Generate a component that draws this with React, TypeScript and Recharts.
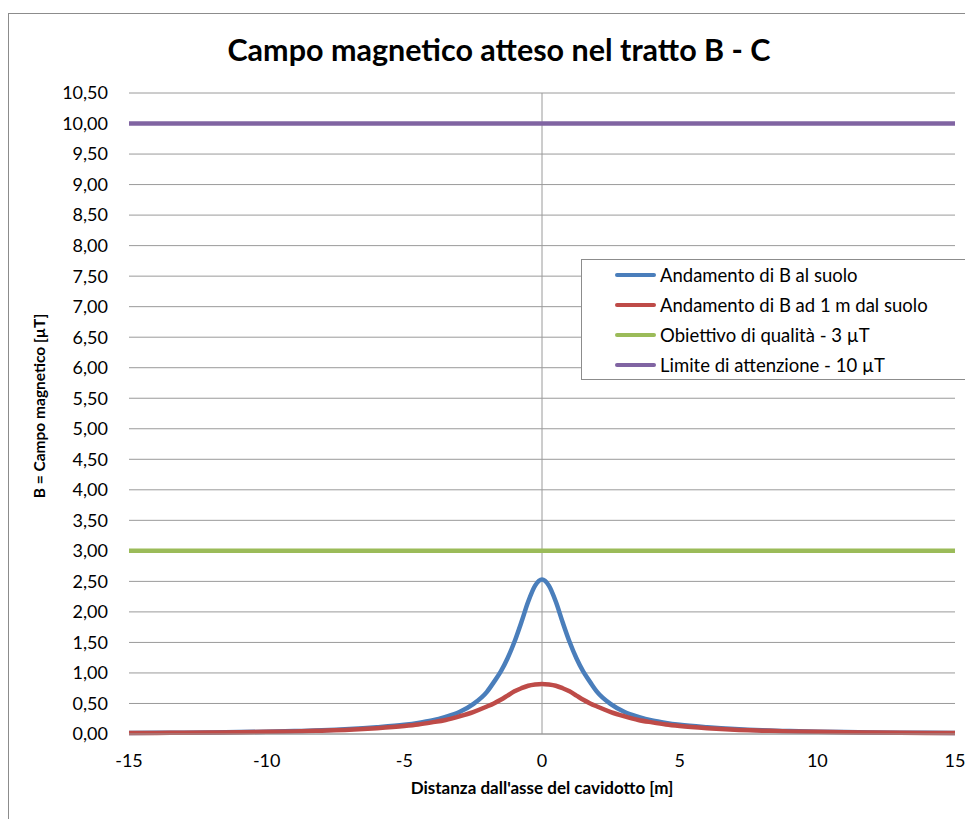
import React from "react";
import { CartesianGrid, Legend, Line, LineChart, ReferenceLine, XAxis, YAxis } from "recharts";

// distanza dall'asse [m]
const distances = [
  -15, -14, -13, -12, -11, -10, -9, -8, -7, -6, -5, -4.5, -4, -3.5, -3, -2.5, -2, -1.75, -1.5, -1.25, -1, -0.75,
  -0.5, -0.25, 0, 0.25, 0.5, 0.75, 1, 1.25, 1.5, 1.75, 2, 2.5, 3, 3.5, 4, 4.5, 5, 6, 7, 8, 9, 10, 11, 12, 13, 14, 15,
];

// B al suolo [µT]
const groundField = [
  0.016, 0.019, 0.022, 0.026, 0.031, 0.038, 0.048, 0.06, 0.08, 0.11, 0.15, 0.18, 0.22, 0.28, 0.36, 0.49, 0.69, 0.85,
  1.02, 1.24, 1.51, 1.83, 2.17, 2.43, 2.53, 2.43, 2.17, 1.83, 1.51, 1.24, 1.02, 0.85, 0.69, 0.49, 0.36, 0.28, 0.22,
  0.18, 0.15, 0.11, 0.08, 0.06, 0.048, 0.038, 0.031, 0.026, 0.022, 0.019, 0.016,
];

// B ad 1 m dal suolo [µT]
const oneMeterField = [
  0.015, 0.018, 0.021, 0.024, 0.029, 0.035, 0.043, 0.055, 0.07, 0.095, 0.13, 0.155, 0.19, 0.23, 0.29, 0.36, 0.45,
  0.5, 0.56, 0.63, 0.7, 0.75, 0.79, 0.81, 0.82, 0.81, 0.79, 0.75, 0.7, 0.63, 0.56, 0.5, 0.45, 0.36, 0.29, 0.23, 0.19,
  0.155, 0.13, 0.095, 0.07, 0.055, 0.043, 0.035, 0.029, 0.024, 0.021, 0.018, 0.015,
];

const limitDistances = [-15, 15];
const qualityTarget = [3, 3];
const attentionLimit = [10, 10];

const xTicks = [-15, -10, -5, 0, 5, 10, 15];
const yTicks = [0, 0.5, 1, 1.5, 2, 2.5, 3, 3.5, 4, 4.5, 5, 5.5, 6, 6.5, 7, 7.5, 8, 8.5, 9, 9.5, 10, 10.5];

const seriesNames = [
  "Andamento di B al suolo",
  "Andamento di B ad 1 m dal suolo",
  "Obiettivo di qualità - 3 µT",
  "Limite di attenzione - 10 µT",
];
const colors = ["#4a7ebb", "#be4b48", "#9bbb59", "#8064a2"];

const curveData = distances.map((x, i) => ({ x, ground: groundField[i], oneMeter: oneMeterField[i] }));
const qualityData = limitDistances.map((x, i) => ({ x, value: qualityTarget[i] }));
const attentionData = limitDistances.map((x, i) => ({ x, value: attentionLimit[i] }));

const font = "Lato, 'Open Sans', sans-serif";
const gridColor = "#9a9a9a";

function LegendBox() {
  return (
    <div
      style={{
        width: 386,
        height: 121,
        boxSizing: "border-box",
        border: "1px solid #8c8c8c",
        background: "#fff",
        fontFamily: font,
        fontSize: 18.5,
        color: "#000",
      }}
    >
      {seriesNames.map((name, i) => (
        <div key={name} style={{ height: 30, display: "flex", alignItems: "center" }}>
          <span style={{ marginLeft: 33, width: 41, height: 4.5, background: colors[i], borderRadius: 2 }} />
          <span style={{ marginLeft: 4, whiteSpace: "nowrap" }}>{name}</span>
        </div>
      ))}
    </div>
  );
}

export default function App() {
  return (
    <div
      style={{
        marginTop: 5,
        width: 965,
        height: 806,
        boxSizing: "border-box",
        borderLeft: "1px solid #8c8c8c",
        borderTop: "1px solid #8c8c8c",
        position: "relative",
        fontFamily: font,
      }}
    >
      <div
        style={{
          position: "absolute",
          left: 190,
          top: 17,
          width: 600,
          textAlign: "center",
          fontSize: 30.5,
          fontWeight: 700,
          color: "#000",
          zIndex: 2,
        }}
      >
        Campo magnetico atteso nel tratto B - C
      </div>
      <div
        style={{
          position: "absolute",
          left: 30 - 150,
          top: 392 - 10,
          width: 300,
          height: 20,
          lineHeight: "20px",
          textAlign: "center",
          transform: "rotate(-90deg)",
          fontSize: 15.5,
          fontWeight: 700,
          color: "#000",
          zIndex: 2,
        }}
      >
        B = Campo magnetico [µT]
      </div>
      <LineChart width={964} height={805} margin={{ top: 79, right: 18, left: 0, bottom: 0 }}>
        <CartesianGrid stroke={gridColor} vertical={false} />
        <XAxis
          dataKey="x"
          type="number"
          domain={[-15, 15]}
          ticks={xTicks}
          height={85}
          tickSize={0}
          tickMargin={20}
          axisLine={{ stroke: gridColor }}
          tick={{ fill: "#000", fontSize: 18, fontFamily: font }}
          label={{
            value: "Distanza dall'asse del cavidotto [m]",
            position: "insideBottom",
            offset: 25,
            fill: "#000",
            fontSize: 17,
            fontWeight: 700,
            fontFamily: font,
          }}
        />
        <YAxis
          type="number"
          domain={[0, 10.5]}
          ticks={yTicks}
          width={120}
          tickSize={0}
          tickMargin={21}
          axisLine={false}
          tick={{ fill: "#000", fontSize: 18, fontFamily: font }}
          tickFormatter={(v: number) => v.toFixed(2).replace(".", ",")}
        />
        <ReferenceLine x={0} stroke={gridColor} />
        <Legend
          layout="horizontal"
          verticalAlign="middle"
          align="center"
          content={() => <LegendBox />}
          wrapperStyle={{ position: "absolute", left: 572, top: 245, width: 386, height: 121 }}
        />
        <Line
          data={curveData}
          dataKey="ground"
          name={seriesNames[0]}
          type="monotone"
          stroke={colors[0]}
          strokeWidth={4.5}
          dot={false}
          isAnimationActive={false}
        />
        <Line
          data={curveData}
          dataKey="oneMeter"
          name={seriesNames[1]}
          type="monotone"
          stroke={colors[1]}
          strokeWidth={4.5}
          dot={false}
          isAnimationActive={false}
        />
        <Line
          data={qualityData}
          dataKey="value"
          name={seriesNames[2]}
          type="linear"
          stroke={colors[2]}
          strokeWidth={4.5}
          dot={false}
          isAnimationActive={false}
        />
        <Line
          data={attentionData}
          dataKey="value"
          name={seriesNames[3]}
          type="linear"
          stroke={colors[3]}
          strokeWidth={4.5}
          dot={false}
          isAnimationActive={false}
        />
      </LineChart>
    </div>
  );
}
